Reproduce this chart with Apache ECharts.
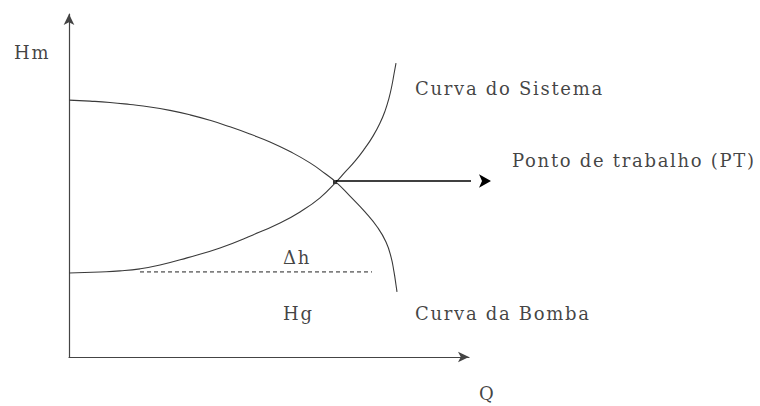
<!DOCTYPE html>
<html>
<head>
<meta charset="utf-8">
<script src="https://cdn.jsdelivr.net/npm/echarts@6/dist/echarts.min.js"></script>
<style>
  html, body { margin: 0; padding: 0; background: #fff; }
  #chart { width: 760px; height: 406px; }
  /* the scanned sketch uses a widely spaced serif */
  #chart svg text { letter-spacing: 1.7px; }
</style>
</head>
<body>
<div id="chart"></div>
<script>
// Q (0-100) vs Hm (0-100), arbitrary units
const bombaQ = [0, 5.25, 10.25, 15.25, 20.25, 25.25, 30.25, 35.25, 40.25, 45.25, 50.25, 55.25, 60.25, 64, 66.75, 70.25, 74, 77.25, 79.25, 80.5, 81.25, 81.75, 82]
const bombaH = [74.9, 74.6, 74.2, 73.6, 72.9, 71.9, 70.6, 69.0, 67.1, 65.0, 62.7, 59.9, 56.6, 53.5, 51.0, 46.9, 42.3, 37.6, 33.5, 29.2, 24.8, 21.0, 19.0]

const sistemaQ = [0, 7.75, 12.75, 17.75, 22.75, 29.5, 37.75, 46, 52.75, 57.75, 62.75, 66.75, 69, 71.5, 74, 76, 77.75, 79, 80, 80.75, 81.25, 81.75]
const sistemaH = [24.5, 24.8, 25.1, 25.7, 26.8, 28.9, 31.8, 35.6, 39.1, 42.3, 46.4, 51.0, 53.9, 57.1, 60.9, 64.4, 68.2, 71.7, 75.5, 79.3, 82.5, 85.7]

// Hg level (dashed) and working point arrow
const hgLine = [[17.75, 24.8], [75.75, 24.8]]
const pontoTrabalho = [66.5, 51.0]
const ptArrow = [[66.75, 51.3], [105.5, 51.3]]

// text annotations (data coords, left aligned)
const labelNames = ['Hm', 'Q', 'Curva do Sistema', 'Ponto de trabalho (PT)', 'Δh', 'Hg', 'Curva da Bomba']
const labelX = [-13.75, 102.5, 86.5, 110.75, 53.5, 53.5, 86.5]
const labelY = [88.9, -10.5, 78.4, 57.4, 28.9, 12.8, 12.8]

const zip = (a, b) => a.map((v, i) => [v, b[i]])

const chart = echarts.init(document.getElementById('chart'), null, { renderer: 'svg' })

const curveStyle = { color: '#3a3a3a', width: 1.1 }
const font = { fontFamily: 'DejaVu Serif', fontSize: 18, color: '#111' }
const hiddenAxis = {
  type: 'value', min: 0, max: 100,
  axisLine: { show: true, symbol: ['none', 'arrow'], symbolSize: [8, 11], lineStyle: { color: '#444', width: 1.2 } },
  axisTick: { show: false }, axisLabel: { show: false }, splitLine: { show: false },
}

chart.setOption({
  animation: false,
  grid: { left: 69, width: 400, top: 14, height: 343 },
  xAxis: hiddenAxis,
  yAxis: hiddenAxis,
  series: [
    {
      name: 'Curva da Bomba', type: 'line', data: zip(bombaQ, bombaH),
      smooth: true, showSymbol: false, lineStyle: curveStyle,
    },
    {
      name: 'Curva do Sistema', type: 'line', data: zip(sistemaQ, sistemaH),
      smooth: true, showSymbol: false, lineStyle: curveStyle,
    },
    {
      name: 'Hg', type: 'line', data: hgLine, showSymbol: false,
      lineStyle: { color: '#222', width: 1, type: [4, 3] },
    },
    {
      name: 'PT', type: 'line', clip: false, silent: true,
      data: [
        { value: ptArrow[0], symbol: 'none' },
        { value: ptArrow[1], symbol: 'arrow', symbolSize: [10, 12], symbolRotate: -90 },
      ],
      showSymbol: true, itemStyle: { color: '#000' },
      lineStyle: { color: '#000', width: 1.6 },
    },
    {
      name: 'ponto', type: 'scatter', data: [pontoTrabalho], symbol: 'rect', symbolSize: 4,
      itemStyle: { color: '#000' },
    },
    {
      name: 'textos', type: 'scatter', data: zip(labelX, labelY).map((p, i) => ({ name: labelNames[i], value: p })),
      symbolSize: 0, clip: false, silent: true,
      label: { show: true, position: 'right', distance: 0, formatter: '{b}', ...font },
    },
  ],
})
</script>
</body>
</html>
